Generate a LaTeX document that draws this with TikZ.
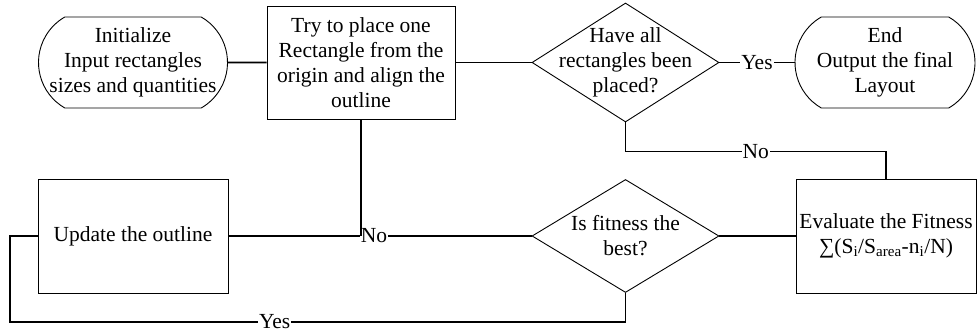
\documentclass[tikz,border=0pt]{standalone}
\usepackage{fontspec}
\setmainfont{Liberation Serif}
\usetikzlibrary{shapes.geometric,shapes.misc}

\tikzset{
  box/.style={draw,line width=0.9pt,minimum width=190pt,minimum height=114pt,align=center,inner sep=1pt},
  term/.style={draw,line width=0.9pt,rounded rectangle,rounded rectangle arc length=120,minimum width=189pt,minimum height=91pt,inner sep=0pt,label={[align=center]center:#1}},
  dia/.style={draw,line width=0.9pt,diamond,minimum width=187pt,minimum height=119pt,inner sep=0pt,label={[align=center]center:#1}},
  conn/.style={line width=1.8pt},
  lab/.style={fill=white,inner sep=1pt}
}

\begin{document}
\begin{tikzpicture}[x=1pt,y=1pt,font=\fontsize{21.5}{25}\selectfont]
	\useasboundingbox (0,0) rectangle (977,-336);
	% top row
	\node[term={Initialize\\Input rectangles\\sizes and quantities}] (init) at (133,-62.5) {};
	\node[box,minimum width=188pt,minimum height=113pt] (try) at (361,-62.5) {Try to place one\\Rectangle from the\\origin and align the\\outline};
	\node[dia={Have all\\rectangles been\\placed?}] (d1) at (625.5,-62.5) {};
	\node[term={End\\Output the final\\Layout},minimum width=180pt] (end) at (885,-62.5) {};
	% bottom row
	\node[box] (upd) at (133,-236) {Update the outline};
	\node[dia={Is fitness the\\best?},minimum height=113pt] (d2) at (625.5,-236) {};
	\node[box,minimum width=180pt] (ev) at (886,-236) {Evaluate the Fitness\\∑(S\textsubscript{i}/S\textsubscript{area}-n\textsubscript{i}/N)};
	\coordinate (back) at (10,-322);
	% connectors
	\draw[conn] (init) -- (try);
	\draw[conn] (try) -- (d1);
	\draw[conn] (d1) -- node[lab]{Yes} (end);
	\draw[conn] (d1.south) -- ++(0,-29) -| node[lab,pos=0.25]{No} (ev.north);
	\draw[conn] (ev) -- (d2);
	\draw[conn] (d2) -- node[lab,pos=0.52]{No} (upd);
	\draw[conn] (try.south) -- (try.south |- upd.east);
	\draw[conn] (d2.south) |- node[lab,pos=0.785]{Yes} (back) |- (upd.west);
\end{tikzpicture}
\end{document}
